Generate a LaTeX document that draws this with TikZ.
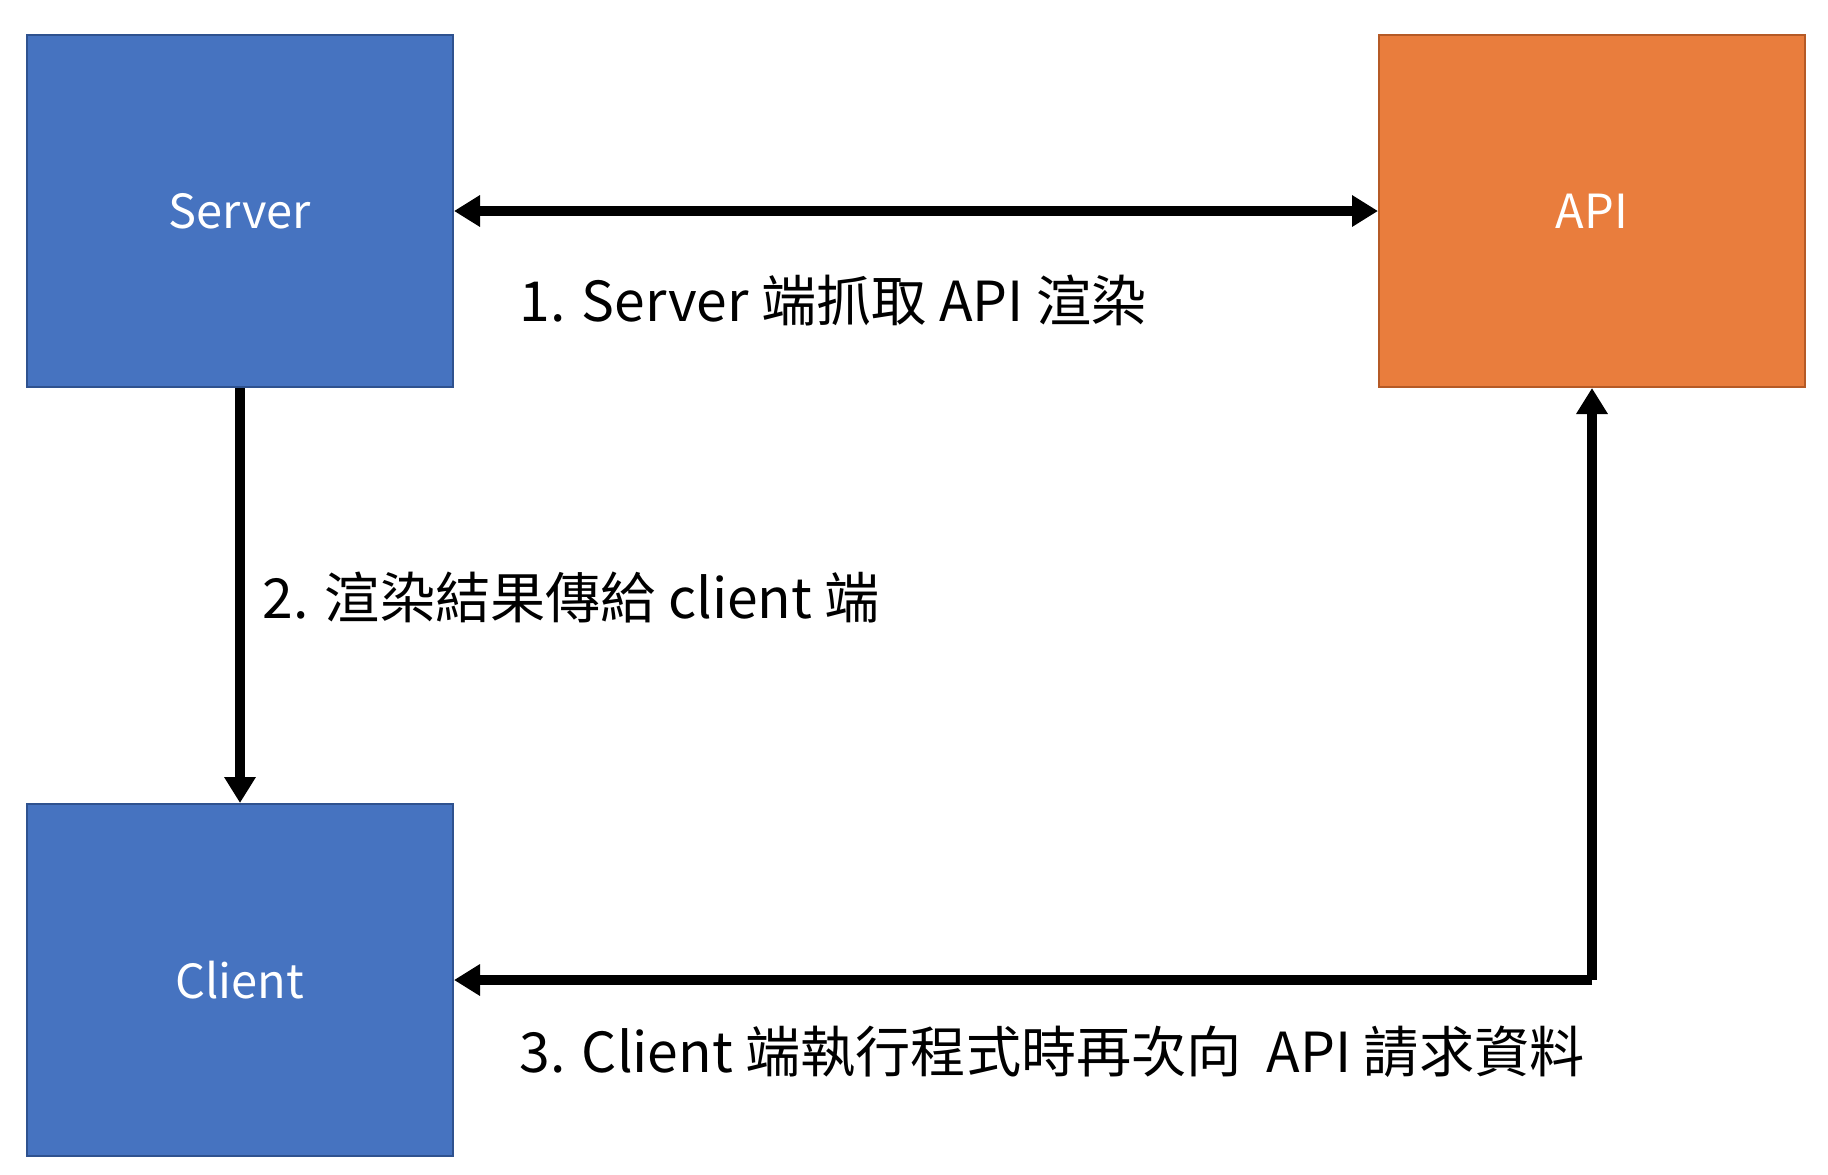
\documentclass[tikz,border=0pt]{standalone}
\usepackage{fontspec}
\setmainfont{Noto Sans CJK TC}
\usetikzlibrary{arrows.meta}
\definecolor{boxblue}{HTML}{4673C0}
\definecolor{boxblueedge}{HTML}{2F528F}
\definecolor{boxorange}{HTML}{E97D3D}
\definecolor{boxorangeedge}{HTML}{B55A26}
\tikzset{
  box/.style={draw, line width=1pt, minimum width=213pt, minimum height=176pt, inner sep=0pt,
    text=white, font=\fontsize{23.5pt}{28pt}\selectfont},
  conn/.style={line width=5.2pt, -{Triangle[length=13pt,width=15pt]}},
  lbl/.style={anchor=base west, inner sep=0pt, font=\fontsize{27.6pt}{32pt}\selectfont}
}
\begin{document}
\begin{tikzpicture}[x=0.5pt,y=-0.5pt]
\useasboundingbox (0,0) rectangle (1828,1174);
\node[box, fill=boxblue, draw=boxblueedge] (server) at (240,211) {Server};
\node[box, fill=boxorange, draw=boxorangeedge] (api) at (1592,211) {API};
\node[box, fill=boxblue, draw=boxblueedge] (client) at (240,980) {Client};
\draw[conn, {Triangle[length=13pt,width=15pt]}-{Triangle[length=13pt,width=15pt]}] (server.east) -- (api.west);
\draw[conn] (server.south) -- (client.north);
\draw[conn] (api.south |- client.east) coordinate (corner) -- (client.east);
\draw[conn] (corner) -- (api.south);
\node[lbl] (l1) at (519,321) {1. Server 端抓取 API 渲染};
\node[lbl] (l2) at (262,618) {2. 渲染結果傳給 client 端};
\node[lbl] (l3) at (519,1072) {3. Client 端執行程式時再次向\ \ API 請求資料};
\end{tikzpicture}
\end{document}
